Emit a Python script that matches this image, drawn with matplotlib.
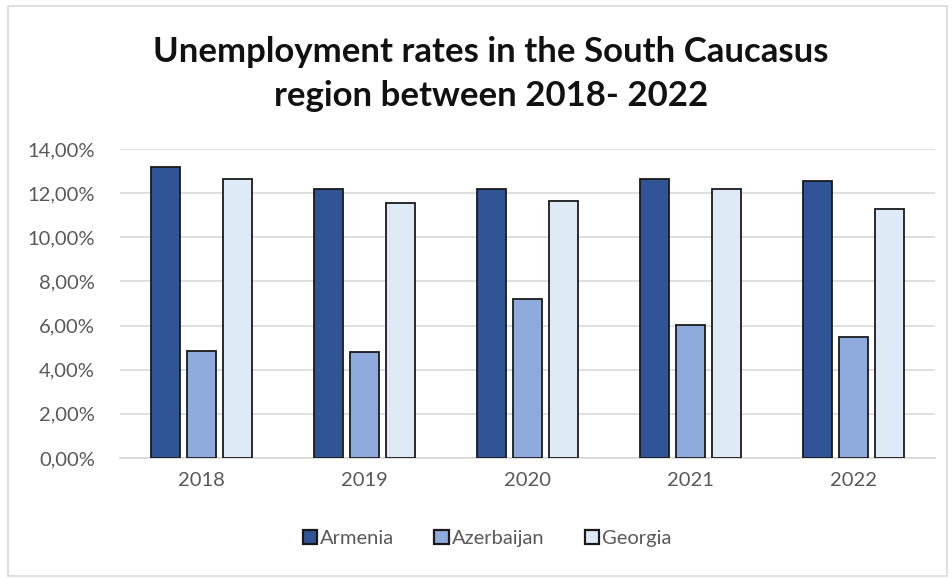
import numpy as np
import matplotlib.pyplot as plt
from matplotlib.patches import Rectangle
from matplotlib.ticker import FuncFormatter

plt.rcParams['font.family'] = ['Lato', 'DejaVu Sans']

years = ['2018', '2019', '2020', '2021', '2022']
armenia = [13.17, 12.19, 12.19, 12.64, 12.55]
azerbaijan = [4.86, 4.79, 7.20, 6.04, 5.50]
georgia = [12.64, 11.57, 11.66, 12.19, 11.28]

series = [('Armenia', armenia, '#2F5597'),
          ('Azerbaijan', azerbaijan, '#8FAADC'),
          ('Georgia', georgia, '#DEEBF7')]

fig = plt.figure(figsize=(9.53, 5.78), dpi=100)
ax = fig.add_axes([0.126, 0.2076, 0.855, 0.5346])

x = np.arange(len(years))
width = 0.18
offset = 0.222
for i, (name, vals, col) in enumerate(series):
    ax.bar(x + (i - 1) * offset, vals, width, color=col, edgecolor='#1a1a1a',
           linewidth=1.3, label=name, zorder=3)

ax.set_xlim(-0.5, len(years) - 0.5)
ax.set_ylim(0, 14)
ax.set_yticks(np.arange(0, 15, 2))
ax.yaxis.set_major_formatter(FuncFormatter(lambda v, p: f'{v:.2f}%'.replace('.', ',')))
ax.set_xticks(x)
ax.set_xticklabels(years)
ax.tick_params(axis='both', length=0, labelsize=14.5, colors='#595959')
ax.tick_params(axis='x', pad=10)
ax.tick_params(axis='y', pad=18)
ax.grid(axis='y', color='#d9d9d9', linewidth=1.2, zorder=0)
for s in ['top', 'right', 'left']:
    ax.spines[s].set_visible(False)
ax.spines['bottom'].set_color('#d9d9d9')
ax.spines['bottom'].set_linewidth(1.2)

fig.text(0.515, 0.872, 'Unemployment rates in the South Caucasus\nregion between 2018- 2022',
         ha='center', va='center', fontsize=25, fontweight='bold', color='#111111',
         linespacing=1.45)

leg = fig.legend(loc='center', bbox_to_anchor=(0.511, 0.069), ncol=3, frameon=False,
                 fontsize=14.5, handlelength=0.7, handleheight=0.7, handletextpad=0.15,
                 columnspacing=2.0)
for t in leg.get_texts():
    t.set_color('#595959')
for h in leg.legend_handles:
    h.set_linewidth(1.6)

# light frame round the chart
fig.patches.append(Rectangle((0.008, 0.004), 0.986, 0.985, transform=fig.transFigure,
                             fill=False, edgecolor='#d9d9d9', linewidth=1.2))

fig.savefig('out.png', dpi=100)
